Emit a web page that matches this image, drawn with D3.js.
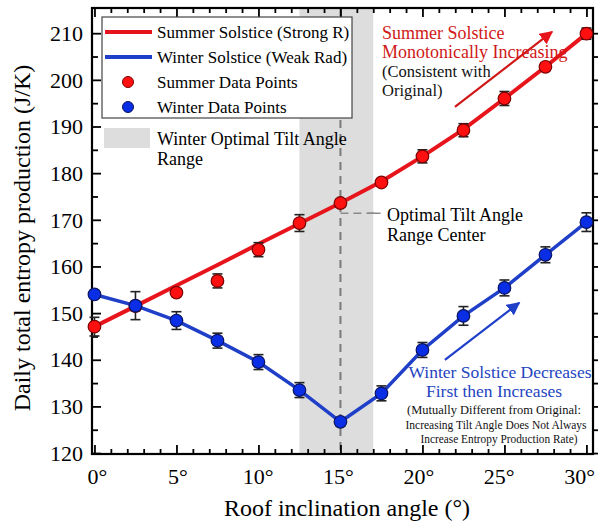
<!DOCTYPE html>
<html>
<head>
<meta charset="utf-8">
<script src="https://cdn.jsdelivr.net/npm/d3@7/dist/d3.min.js"></script>
<style>
  body { margin: 0; background: #fff; }
  svg { display: block; }
  svg text { font-family: "Liberation Serif", "DejaVu Serif", "Noto Serif", Tinos, "Times New Roman", Times, serif; }
</style>
</head>
<body>
<div id="chart"></div>
<script>
// angles (deg) and values
const angles = [0, 2.5, 5, 7.5, 10, 12.5, 15, 17.5, 20, 22.5, 25, 27.5, 30];
const summerPoints = [147.1, 151.5, 154.4, 156.9, 163.6, 169.3, 173.6, 178.0, 183.6, 189.2, 196.0, 202.8, 209.9];
const summerErr    = [2.0, 1.0, 0.8, 1.5, 1.5, 1.8, 0.8, 0.8, 1.4, 1.4, 1.5, 0.8, 1.2];
const summerLine   = [147.1, 151.5, 155.9, 160.3, 164.8, 169.2, 173.6, 178.2, 183.6, 189.4, 196.0, 202.8, 209.9];
const winterPoints = [154.0, 151.6, 148.4, 144.1, 139.5, 133.5, 126.7, 132.8, 142.1, 149.4, 155.4, 162.5, 169.5];
const winterErr    = [0.8, 3.0, 1.9, 1.6, 1.6, 1.6, 0.8, 1.6, 1.6, 2.0, 1.7, 1.7, 2.0];
const bandRange = [12.5, 17];
const optimalCenter = 15;
const yTicks = [120, 130, 140, 150, 160, 170, 180, 190, 200, 210];
const xTicks = [0, 5, 10, 15, 20, 25, 30];

const W = 598, H = 526;
const pLeft = 92, pRight = 593, pTop = 8, pBottom = 454;

const svg = d3.select("#chart").append("svg")
  .attr("width", W).attr("height", H);

const x = d3.scaleLinear().domain([-0.15, 30.4]).range([pLeft, pRight]);
const y = d3.scaleLinear().domain([119.8, 215.4]).range([pBottom, pTop]);

const red = "#e8141b", blue = "#1f3fc8";

// arrow markers
const defs = svg.append("defs");
[["arrRed", red], ["arrBlue", blue]].forEach(([id, c]) => {
  defs.append("marker")
    .attr("id", id).attr("viewBox", "0 0 10 10")
    .attr("refX", 9).attr("refY", 5)
    .attr("markerWidth", 6).attr("markerHeight", 6)
    .attr("markerUnits", "strokeWidth")
    .attr("orient", "auto")
    .append("path").attr("d", "M0,0 L10,5 L0,10 z").attr("fill", c);
});

// grey band
svg.append("rect")
  .attr("x", x(bandRange[0])).attr("y", pTop)
  .attr("width", x(bandRange[1]) - x(bandRange[0]))
  .attr("height", pBottom - pTop)
  .attr("fill", "#dddddd");

// dashed center line
svg.append("line")
  .attr("x1", x(optimalCenter)).attr("x2", x(optimalCenter))
  .attr("y1", pTop).attr("y2", pBottom)
  .attr("stroke", "#7a7a7a").attr("stroke-width", 2)
  .attr("stroke-dasharray", "8,6");

svg.append("line")
  .attr("x1", x(optimalCenter)).attr("x2", x(17.2))
  .attr("y1", y(171.4)).attr("y2", y(171.4))
  .attr("stroke", "#8a8a8a").attr("stroke-width", 1.5)
  .attr("stroke-dasharray", "8,5");
svg.append("line")
  .attr("x1", x(16.65)).attr("x2", x(17.45))
  .attr("y1", y(171.4)).attr("y2", y(171.4))
  .attr("stroke", "#8a8a8a").attr("stroke-width", 1.5);

// axes frame with inward ticks
const minorX = d3.range(0, 31, 1);
const minorY = d3.range(120, 215, 5);

svg.append("g")
  .attr("transform", `translate(0,${pBottom})`)
  .call(d3.axisTop(x).tickValues(minorX).tickSize(5).tickFormat(""))
  .call(g => g.select(".domain").remove())
  .selectAll("line").attr("stroke", "#000").attr("stroke-width", 1.8)
  .attr("y2", d => d % 5 === 0 ? -9 : -5);

svg.append("g")
  .attr("transform", `translate(0,${pTop})`)
  .call(d3.axisBottom(x).tickValues(minorX).tickSize(5).tickFormat(""))
  .call(g => g.select(".domain").remove())
  .selectAll("line").attr("stroke", "#000").attr("stroke-width", 1.8)
  .attr("y2", d => d % 5 === 0 ? 9 : 5);

svg.append("g")
  .attr("transform", `translate(${pLeft},0)`)
  .call(d3.axisRight(y).tickValues(minorY).tickSize(5).tickFormat(""))
  .call(g => g.select(".domain").remove())
  .selectAll("line").attr("stroke", "#000").attr("stroke-width", 1.8)
  .attr("x2", d => d % 10 === 0 ? 9 : 6);

svg.append("g")
  .attr("transform", `translate(${pRight},0)`)
  .call(d3.axisRight(y).tickValues(minorY).tickSize(5).tickFormat(""))
  .call(g => g.select(".domain").remove())
  .selectAll("line").attr("stroke", "#000").attr("stroke-width", 1.8)
  .attr("x2", 5);

svg.append("rect")
  .attr("x", pLeft).attr("y", pTop)
  .attr("width", pRight - pLeft).attr("height", pBottom - pTop)
  .attr("fill", "none").attr("stroke", "#000").attr("stroke-width", 2.2);

// tick labels
svg.append("g").selectAll("text").data(yTicks).enter().append("text")
  .attr("x", pLeft - 9).attr("y", d => y(d)).attr("dy", "0.35em")
  .attr("text-anchor", "end").attr("font-size", 22).text(d => d);

svg.append("g").selectAll("text").data(xTicks).enter().append("text")
  .attr("x", d => x(d) + 3 - d * 0.33).attr("y", 476).attr("dy", "0.35em")
  .attr("text-anchor", "middle").attr("font-size", 22).text(d => d + "°");

// axis titles
svg.append("text")
  .attr("x", 347).attr("y", 508).attr("dy", "0.35em")
  .attr("text-anchor", "middle").attr("font-size", 24)
  .text("Roof inclination angle (°)");

svg.append("text")
  .attr("transform", `translate(22,${238}) rotate(-90)`)
  .attr("dy", "0.35em")
  .attr("text-anchor", "middle").attr("font-size", 24)
  .text("Daily total entropy production (J/K)");

// lines
const line = d3.line().x((d, i) => x(angles[i])).y(d => y(d));

svg.append("path").datum(summerLine)
  .attr("d", line).attr("fill", "none")
  .attr("stroke", red).attr("stroke-width", 4);

svg.append("path").datum(winterPoints)
  .attr("d", line).attr("fill", "none")
  .attr("stroke", blue).attr("stroke-width", 3.5);

// error bars and points
function drawSeries(vals, errs, fill, stroke) {
  const g = svg.append("g");
  const eb = g.selectAll(".eb").data(vals).enter().append("g");
  eb.append("line")
    .attr("x1", (d, i) => x(angles[i])).attr("x2", (d, i) => x(angles[i]))
    .attr("y1", (d, i) => y(d - errs[i])).attr("y2", (d, i) => y(d + errs[i]))
    .attr("stroke", "#222").attr("stroke-width", 1.6);
  [-1, 1].forEach(s => {
    eb.append("line")
      .attr("x1", (d, i) => x(angles[i]) - 5).attr("x2", (d, i) => x(angles[i]) + 5)
      .attr("y1", (d, i) => y(d + s * errs[i])).attr("y2", (d, i) => y(d + s * errs[i]))
      .attr("stroke", "#222").attr("stroke-width", 1.6);
  });
  g.selectAll("circle").data(vals).enter().append("circle")
    .attr("cx", (d, i) => x(angles[i])).attr("cy", d => y(d))
    .attr("r", 6.3)
    .attr("fill", fill).attr("stroke", stroke).attr("stroke-width", 1.2);
}
drawSeries(summerPoints, summerErr, "#ff1010", "#7a0000");
drawSeries(winterPoints, winterErr, "#0a2ee6", "#0a1460");

// legend
const lg = svg.append("g");
lg.append("rect")
  .attr("x", 102).attr("y", 17).attr("width", 250).attr("height", 101)
  .attr("fill", "#fff").attr("stroke", "#444").attr("stroke-width", 1.2);
const legendItems = [
  { label: "Summer Solstice (Strong R)", type: "line", color: red },
  { label: "Winter Solstice (Weak Rad)", type: "line", color: blue },
  { label: "Summer Data Points", type: "dot", color: "#ff1010", stroke: "#7a0000" },
  { label: "Winter Data Points", type: "dot", color: "#0a2ee6", stroke: "#0a1460" }
];
legendItems.forEach((d, i) => {
  const cy = 32 + i * 25;
  if (d.type === "line") {
    lg.append("line").attr("x1", 105).attr("x2", 152).attr("y1", cy).attr("y2", cy)
      .attr("stroke", d.color).attr("stroke-width", 4);
  } else {
    lg.append("circle").attr("cx", 128).attr("cy", cy).attr("r", 5.5)
      .attr("fill", d.color).attr("stroke", d.stroke).attr("stroke-width", 1);
  }
  lg.append("text").attr("x", 157).attr("y", cy).attr("dy", "0.35em")
    .attr("font-size", 17).text(d.label);
});
lg.append("rect").attr("x", 104).attr("y", 128).attr("width", 46).attr("height", 20)
  .attr("fill", "#dddddd");
lg.append("text").attr("x", 157).attr("y", 139).attr("dy", "0.35em")
  .attr("font-size", 18).text("Winter Optimal Tilt Angle");
lg.append("text").attr("x", 157).attr("y", 159).attr("dy", "0.35em")
  .attr("font-size", 18).text("Range");

// annotations
svg.append("text").attr("x", 387).attr("y", y(171.4) + 1).attr("dy", "0.35em")
  .attr("font-size", 18).text("Optimal Tilt Angle");
svg.append("text").attr("x", 387).attr("y", y(171.4) + 21).attr("dy", "0.35em")
  .attr("font-size", 18).text("Range Center");

const sumNote = svg.append("g").attr("font-size", 18);
sumNote.append("text").attr("x", 382).attr("y", 33).attr("dy", "0.35em")
  .attr("fill", "#d01818").text("Summer Solstice");
sumNote.append("text").attr("x", 382).attr("y", 52).attr("dy", "0.35em")
  .attr("fill", "#d01818").text("Monotonically Increasing");
sumNote.append("text").attr("x", 382).attr("y", 71).attr("dy", "0.35em")
  .attr("font-size", 16.5).attr("fill", "#111").text("(Consistent with");
sumNote.append("text").attr("x", 382).attr("y", 90).attr("dy", "0.35em")
  .attr("font-size", 16.5).attr("fill", "#111").text("Original)");

svg.append("line")
  .attr("x1", x(21.98)).attr("y1", y(194.2))
  .attr("x2", x(27.9)).attr("y2", y(210.3))
  .attr("stroke", "#d01818").attr("stroke-width", 2.2)
  .attr("marker-end", "url(#arrRed)");

svg.append("line")
  .attr("x1", x(21.37)).attr("y1", y(139.95))
  .attr("x2", x(25.9)).attr("y2", y(152.2))
  .attr("stroke", blue).attr("stroke-width", 2.2)
  .attr("marker-end", "url(#arrBlue)");

const winNote = svg.append("g").attr("text-anchor", "middle");
winNote.append("text").attr("x", 500).attr("y", 372).attr("dy", "0.35em")
  .attr("font-size", 17.5).attr("fill", "#2444c0").text("Winter Solstice Decreases");
winNote.append("text").attr("x", 494).attr("y", 391).attr("dy", "0.35em")
  .attr("font-size", 17.5).attr("fill", "#2444c0").text("First then Increases");
const small = [
  ["(Mutually Different from Original:", 494, 410, 174],
  ["Increasing Tilt Angle Does Not Always", 496, 424.5, 181],
  ["Increase Entropy Production Rate)", 499, 439, 157]
];
small.forEach(([t, cx, cy, len]) => {
  winNote.append("text").attr("x", cx).attr("y", cy).attr("dy", "0.35em")
    .attr("font-size", 12.5).attr("fill", "#111")
    .attr("textLength", len).attr("lengthAdjust", "spacingAndGlyphs").text(t);
});
</script>
</body>
</html>
